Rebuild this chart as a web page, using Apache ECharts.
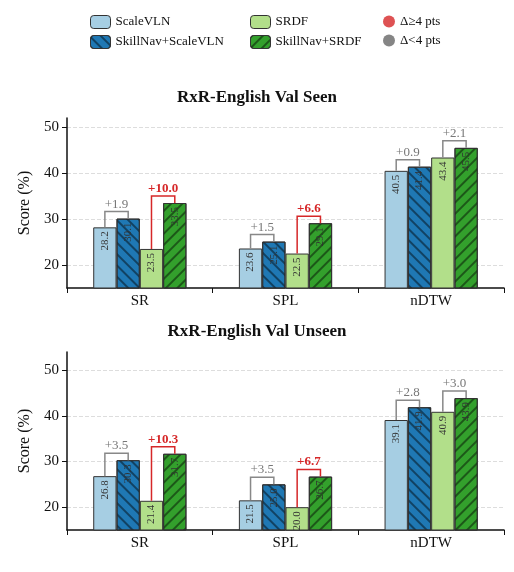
<!DOCTYPE html>
<html><head><meta charset="utf-8">
<script src="https://cdn.jsdelivr.net/npm/echarts@6/dist/echarts.min.js"></script>
<style>html,body{margin:0;background:#fff}#c{width:514px;height:572px}</style></head>
<body><div id="c"></div>
<script>
const categories = ['SR','SPL','nDTW'];
const seriesNames = ['ScaleVLN','SkillNav+ScaleVLN','SRDF','SkillNav+SRDF'];
const seenScaleVLN = [28.2,23.6,40.5];
const seenSkillScaleVLN = [30.1,25.1,41.4];
const seenSRDF = [23.5,22.5,43.4];
const seenSkillSRDF = [33.5,29.1,45.5];
const unseenScaleVLN = [26.8,21.5,39.1];
const unseenSkillScaleVLN = [30.3,25.0,41.9];
const unseenSRDF = [21.4,20.0,40.9];
const unseenSkillSRDF = [31.7,26.7,43.9];
const titles = ['RxR-English Val Seen','RxR-English Val Unseen'];
const yTicks = [20,30,40,50];

const colors = ['#a6cee3','#1f78b4','#b2df8a','#33a02c'];
const F = 'Liberation Serif';
const BW = 0.16;
const chart = echarts.init(document.getElementById('c'));
const panels = [
  [seenScaleVLN,seenSkillScaleVLN,seenSRDF,seenSkillSRDF],
  [unseenScaleVLN,unseenSkillScaleVLN,unseenSRDF,unseenSkillSRDF]
];
const grids = [{left:67,right:10,top:118,height:170},{left:67,right:10,top:352,height:178}];
const maxes = [52,54];
const series = [];
panels.forEach((vals,p)=>{
  vals.forEach((arr,i)=>{
    const hatch = i===1||i===3;
    const itemStyle = {color:colors[i], borderColor:'#333', borderWidth:1};
    if (hatch) itemStyle.decal = {symbol:'rect', symbolSize:1, dashArrayX:[1,0], dashArrayY:[1.2,6],
          rotation: i===1 ? Math.PI/4 : -Math.PI/4, color:'rgba(0,0,0,0.45)'};
    series.push({
      type:'bar', name:seriesNames[i], xAxisIndex:p, yAxisIndex:p, data:arr,
      barWidth:(BW*100)+'%', barGap:'0%',
      itemStyle,
      label:{show:true, position:'insideTop', rotate:90, align:'right', verticalAlign:'middle',
        distance:4, fontFamily:F, fontSize:11, color:'#333', formatter:d=>d.value.toFixed(1)},
      z:2
    });
  });
  const bdata = [];
  for (let c=0;c<3;c++){
    bdata.push([c,0,1,vals[0][c],vals[1][c]]);
    bdata.push([c,2,3,vals[2][c],vals[3][c]]);
  }
  series.push({
    type:'custom', xAxisIndex:p, yAxisIndex:p, data:bdata, z:5, silent:true,
    encode:{x:0,y:4},
    renderItem:(params,api)=>{
      const c=api.value(0), a=api.value(1), b=api.value(2), va=api.value(3), vb=api.value(4);
      const cx=api.coord([c,0])[0], bw=api.size([1,0])[0]*BW;
      const xa=cx+(a-1.5)*bw, xb=cx+(b-1.5)*bw;
      const ya=api.coord([c,va])[1], yb=api.coord([c,vb])[1];
      const top=Math.min(ya,yb)-7;
      const d=vb-va, big=Math.abs(d)>=4;
      const col=big?'#d62728':'#888';
      return {type:'group',children:[
        {type:'polyline',shape:{points:[[xa,ya],[xa,top],[xb,top],[xb,yb]]},style:{stroke:col,lineWidth:1.5,fill:null}},
        {type:'text',style:{x:(xa+xb)/2,y:top-1,text:(d>=0?'+':'')+d.toFixed(1),
          fill:big?'#d62728':'#777',fontFamily:F,fontSize:13,fontWeight:big?'bold':'normal',
          align:'center',verticalAlign:'bottom'}}
      ]};
    }
  });
});
series.push({type:'scatter',name:'Δ≥4 pts',data:[],itemStyle:{color:'#d62728'}});
series.push({type:'scatter',name:'Δ<4 pts',data:[],itemStyle:{color:'#666'}});

const legBase = {orient:'vertical', top:10, itemGap:6, itemWidth:20, itemHeight:13,
  textStyle:{fontFamily:F,fontSize:13,color:'#111'}, selectedMode:false};
chart.setOption({
  animation:false,
  title: titles.map((t,i)=>({text:t,left:'center',top:i?318:84,
    textStyle:{fontFamily:F,fontSize:17,fontWeight:'bold',color:'#111'}})),
  legend:[
    Object.assign({},legBase,{left:85,data:[seriesNames[0],seriesNames[1]],
      itemStyle:{borderColor:'#333',borderWidth:1}}),
    Object.assign({},legBase,{left:245,data:[seriesNames[2],seriesNames[3]],
      itemStyle:{borderColor:'#333',borderWidth:1}}),
    Object.assign({},legBase,{left:378,itemWidth:12,itemHeight:12,
      data:[{name:'Δ≥4 pts',icon:'circle'},{name:'Δ<4 pts',icon:'circle'}]})
  ],
  grid:grids,
  xAxis:[0,1].map(p=>({type:'category',gridIndex:p,data:categories,
    axisLine:{lineStyle:{color:'#111',width:1.5}},axisTick:{show:true,lineStyle:{color:'#111'}},
    axisLabel:{fontFamily:F,fontSize:15,color:'#111',margin:6}})),
  yAxis:[0,1].map(p=>({type:'value',gridIndex:p,min:15,max:maxes[p],
    name:'Score (%)',nameLocation:'middle',nameGap:30,
    nameTextStyle:{fontFamily:F,fontSize:16,color:'#111'},
    axisLine:{show:true,lineStyle:{color:'#111',width:1.5}},
    axisLabel:{fontFamily:F,fontSize:15,color:'#111',customValues:yTicks},
    axisTick:{show:true,customValues:yTicks,lineStyle:{color:'#111'}},
    splitLine:{show:true,lineStyle:{type:'dashed',color:'#ddd'}}})),
  series
});
</script></body></html>
